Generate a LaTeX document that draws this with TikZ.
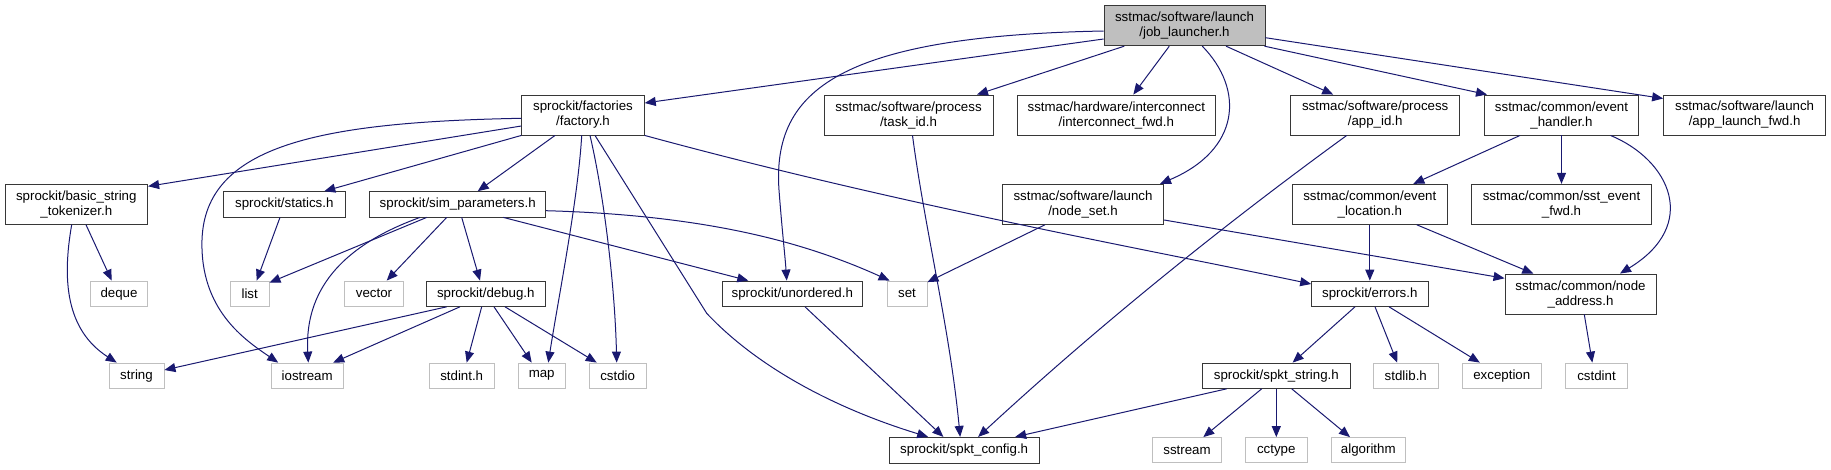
\documentclass[tikz,border=0pt]{standalone}
\usepackage{fontspec}
\setmainfont{Liberation Sans}
\usepackage{tikz}
\usetikzlibrary{arrows.meta,positioning,calc}
\definecolor{InclAresta}{RGB}{25,25,112}
\definecolor{InclBorda}{RGB}{55,55,55}
\definecolor{InclCinza}{RGB}{191,191,191}
\definecolor{InclRaiz}{RGB}{191,191,191}
\tikzset{
  arquivo/.style={draw=InclBorda, line width=0.9pt, fill=white, align=center,
                  font=\fontsize{13.3}{15}\selectfont, inner sep=0pt, minimum height=25.3pt},
  arquivoext/.style={arquivo, draw=InclCinza},
  arquivoraiz/.style={arquivo, fill=InclRaiz, minimum height=40pt},
  duaslinhas/.style={minimum height=40pt},
  seta/.style={-{Triangle[length=11pt,width=9pt]}, line width=1pt, InclAresta},
}

\begin{document}
\begin{tikzpicture}[x=1pt,y=-1pt]
  \useasboundingbox (0,0) rectangle (1831,469);

  % Raiz do grafo
  \node[arquivoraiz, minimum width=161pt] (job) at (1184.5,25.7)
    {sstmac/software/launch\\/job\_launcher.h};

  % Nivel 1
  \node[arquivo, duaslinhas, minimum width=122.6pt] (factory) at (583,115) {sprockit/factories\\/factory.h};
  \node[arquivo, duaslinhas, minimum width=169pt] (taskid) at (908.5,115) {sstmac/software/process\\/task\_id.h};
  \node[arquivo, duaslinhas, minimum width=197.3pt] (icfwd) at (1116.3,115) {sstmac/hardware/interconnect\\/interconnect\_fwd.h};
  \node[arquivo, duaslinhas, minimum width=169pt] (appid) at (1375.2,115) {sstmac/software/process\\/app\_id.h};
  \node[arquivo, duaslinhas, minimum width=154pt] (evhandler) at (1561.5,115) {sstmac/common/event\\\_handler.h};
  \node[arquivo, duaslinhas, minimum width=162pt] (applaunch) at (1744.6,115) {sstmac/software/launch\\/app\_launch\_fwd.h};

  % Nivel 2
  \node[arquivo, duaslinhas, minimum width=142.7pt] (tokenizer) at (76.3,204.3) {sprockit/basic\_string\\\_tokenizer.h};
  \node[arquivo, minimum width=122.7pt] (statics) at (284.3,204.3) {sprockit/statics.h};
  \node[arquivo, minimum width=176pt] (simparams) at (457.7,204.3) {sprockit/sim\_parameters.h};
  \node[arquivo, duaslinhas, minimum width=161.4pt] (nodeset) at (1083,204.3) {sstmac/software/launch\\/node\_set.h};
  \node[arquivo, duaslinhas, minimum width=155pt] (evlocation) at (1369.8,204.3) {sstmac/common/event\\\_location.h};
  \node[arquivo, duaslinhas, minimum width=180.3pt] (sstevent) at (1561.5,204.3) {sstmac/common/sst\_event\\\_fwd.h};

  % Nivel 3 e abaixo
  \node[arquivo, minimum width=119pt] (debug) at (485.8,293.7) {sprockit/debug.h};
  \node[arquivo, minimum width=140pt] (unordered) at (792.3,293.7) {sprockit/unordered.h};
  \node[arquivo, minimum width=116.3pt] (errors) at (1369.8,293.7) {sprockit/errors.h};
  \node[arquivo, duaslinhas, minimum width=151pt] (nodeaddr) at (1580.5,294) {sstmac/common/node\\\_address.h};
  \node[arquivo, minimum width=147.3pt] (spktstring) at (1276.3,375.7) {sprockit/spkt\_string.h};
  \node[arquivo, minimum width=150.3pt, minimum height=25.7pt] (spktconfig) at (964.15,450.2) {sprockit/spkt\_config.h};

  % Cabecalhos do sistema (caixas cinza)
  \foreach \nome/\x/\y/\w/\txt in {deque/119/293.7/57.4/deque, list/249.7/293.7/38.7/list,
      vector/374/293.7/58.6/vector, set/907/293.7/40/set,
      string/136.5/375.7/55/string, iostream/307.2/375.7/71.7/iostream,
      stdint/461.7/375.7/65.3/stdint.h, map/541.7/375.7/46.7/map, cstdio/617.7/375.7/57.3/cstdio,
      stdlib/1405.8/375.7/64.3/stdlib.h, exception/1501.8/375.7/79/exception,
      cstdint/1596.5/375.7/61.6/cstdint,
      sstream/1187/450.2/69.4/sstream, cctype/1276.3/450.2/61.3/cctype,
      algorithm/1368.3/450.2/74.7/algorithm}{
    \node[arquivoext, minimum width=\w pt] (\nome) at (\x,\y) {\txt};
  }

  % Arestas da raiz
  \draw[seta] ($(job.west)+(0,13.3)$) -- ($(factory.east)+(0,-12)$);
  \draw[seta] ($(job.west)+(0,5.3)$) .. controls (840,36) and (772,90) .. (779,190)
              .. controls (782,230) and (785,255) .. ($(unordered.north)+(-5.6,0)$);
  \draw[seta] ($(job.south)+(-60.2,0)$) -- ($(taskid.north)+(68.5,0)$);
  \draw[seta] ($(job.south)+(-15.2,0)$) -- ($(icfwd.north)+(17,0)$);
  \draw[seta] ($(job.south)+(17.8,0)$) .. controls (1245,90) and (1240,150) .. ($(nodeset.north)+(77,0)$);
  \draw[seta] ($(job.south)+(41.5,0)$) -- ($(appid.north)+(-42,0)$);
  \draw[seta] ($(job.south)+(79.9,0)$) -- ($(evhandler.north)+(-74.5,0)$);
  \draw[seta] ($(job.east)+(0,12)$) -- ($(applaunch.west)+(0,-16.5)$);

  % Arestas de factory.h
  \draw[seta] ($(factory.west)+(0,11)$) -- ($(tokenizer.east)+(0,-18)$);
  \draw[seta] ($(factory.west)+(0,3.3)$) .. controls (320,122) and (205,145) .. (202,240)
              .. controls (200,310) and (245,340) .. ($(iostream.north)+(-29,0)$);
  \draw[seta] (factory.south west) -- ($(statics.north)+(40,0)$);
  \draw[seta] ($(factory.south)+(-28,0)$) -- ($(simparams.north)+(20,0)$);
  \draw[seta] ($(factory.south)+(-1.3,0)$) .. controls (578,200) and (558,300) .. ($(map.north)+(6.6,0)$);
  \draw[seta] ($(factory.south)+(7,0)$) .. controls (605,200) and (615,290) .. ($(cstdio.north)+(-1,0)$);
  \draw[seta] ($(factory.south)+(12,0)$) -- (706.7,313.3)
              .. controls (760,370) and (840,410) .. ($(spktconfig.north)+(-36,0)$);
  \draw[seta] (factory.south east) .. controls (900,205) and (1150,250) .. ($(errors.west)+(0,-9.7)$);

  % Demais arestas do nivel 1
  \draw[seta] ($(taskid.south)+(4,0)$) .. controls (925,230) and (950,330) .. ($(spktconfig.north)+(-4,0)$);
  \draw[seta] ($(appid.south)+(-28.5,0)$) .. controls (1218,229) and (1095,329) .. ($(spktconfig.north)+(14,0)$);
  \draw[seta] ($(evhandler.south)+(-41.5,0)$) -- ($(evlocation.north)+(43.5,0)$);
  \draw[seta] (evhandler) -- (sstevent);
  \draw[seta] ($(evhandler.south)+(49,0)$) .. controls (1670,160) and (1700,225) .. ($(nodeaddr.north)+(39.5,0)$);

  % Nivel 2
  \draw[seta] ($(tokenizer.south)+(9.7,0)$) -- ($(deque.north)+(-7.3,0)$);
  \draw[seta] ($(tokenizer.south)+(-4.6,0)$) .. controls (62,280) and (66,330) .. ($(string.north)+(-19.8,0)$);
  \draw[seta] ($(statics.south)+(-4.3,0)$) -- ($(list.north)+(7,0)$);
  \draw[seta] ($(simparams.south)+(-31,0)$) -- ($(list.north east)+(0,2)$);
  \draw[seta] ($(simparams.south)+(-37.7,0)$) .. controls (330,250) and (305,300) .. ($(iostream.north)+(1.1,0)$);
  \draw[seta] ($(simparams.south)+(-11,0)$) -- ($(vector.north)+(12.7,0)$);
  \draw[seta] ($(simparams.south)+(4,0)$) -- ($(debug.north)+(-5.8,0)$);
  \draw[seta] ($(simparams.south)+(45.6,0)$) -- ($(unordered.north)+(-44,0)$);
  \draw[seta] ($(simparams.east)+(0,6.4)$) .. controls (700,215) and (800,240) .. ($(set.north west)+(3,0)$);
  \draw[seta] ($(nodeset.south)+(-38,0)$) -- ($(set.north east)+(0,1.5)$);
  \draw[seta] ($(nodeset.east)+(0,15.7)$) -- ($(nodeaddr.west)+(0,-15.7)$);
  \draw[seta] (evlocation) -- (errors);
  \draw[seta] ($(evlocation.south)+(46.9,0)$) -- ($(nodeaddr.north)+(-47.2,0)$);

  % Nivel 3 e 4
  \draw[seta] ($(debug.south)+(-39.1,0)$) -- ($(string.east)+(0,-5.7)$);
  \draw[seta] ($(debug.south)+(-25.8,0)$) -- ($(iostream.north)+(26,0)$);
  \draw[seta] ($(debug.south)+(-4.1,0)$) -- ($(stdint.north)+(5,0)$);
  \draw[seta] ($(debug.south)+(8.2,0)$) -- ($(map.north)+(-10,0)$);
  \draw[seta] ($(debug.south)+(19.2,0)$) -- ($(cstdio.north)+(-21,0)$);
  \draw[seta] ($(unordered.south)+(12.7,0)$) -- ($(spktconfig.north)+(-20.8,0)$);
  \draw[seta] ($(errors.south)+(-14.8,0)$) -- ($(spktstring.north)+(16.3,0)$);
  \draw[seta] ($(errors.south)+(5.2,0)$) -- ($(stdlib.north)+(-8.6,0)$);
  \draw[seta] ($(errors.south)+(19.2,0)$) -- ($(exception.north)+(-22,0)$);
  \draw[seta] ($(nodeaddr.south)+(3.8,0)$) -- ($(cstdint.north)+(-4.2,0)$);
  \draw[seta] ($(spktstring.south)+(-49.6,0)$) -- ($(spktconfig.north)+(51,0)$);
  \draw[seta] ($(spktstring.south)+(-14.6,0)$) -- ($(sstream.north)+(16.3,0)$);
  \draw[seta] (spktstring) -- (cctype);
  \draw[seta] ($(spktstring.south)+(15.4,0)$) -- ($(algorithm.north)+(-18.3,0)$);
\end{tikzpicture}
\end{document}
